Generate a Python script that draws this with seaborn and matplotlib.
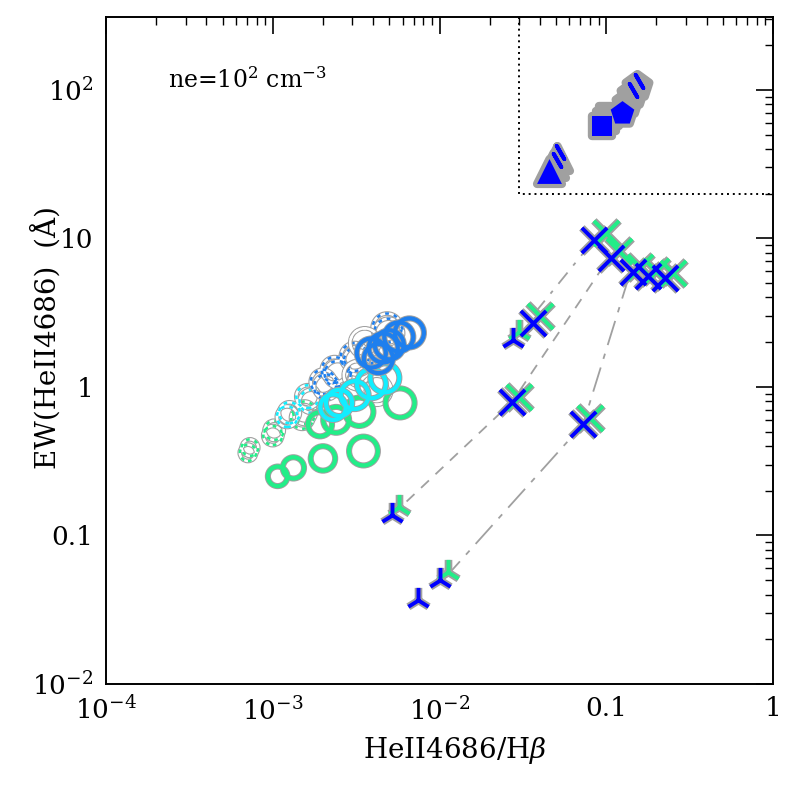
import numpy as np
import matplotlib
matplotlib.use("Agg")
import matplotlib.pyplot as plt
import seaborn as sns

# ---- data (x = HeII4686/Hb, y = EW(HeII4686) in A) ----
# rings: solid thick
green_ring_x = [1.07e-3, 1.33e-3, 2.0e-3, 3.5e-3, 1.92e-3, 2.4e-3, 3.3e-3, 5.8e-3]
green_ring_y = [0.25, 0.285, 0.33, 0.37, 0.56, 0.60, 0.68, 0.78]
cyan_ring_x = [2.3e-3, 2.5e-3, 3.1e-3, 4.7e-3, 3.9e-3]
cyan_ring_y = [0.73, 0.78, 0.88, 1.15, 1.05]
blue_ring_x = [3.9e-3, 4.3e-3, 4.6e-3, 5.0e-3, 5.7e-3, 6.6e-3]
blue_ring_y = [1.69, 1.55, 1.83, 1.92, 2.17, 2.31]
# rings: dashed / dotted
green_dash_x = [7.1e-4, 7.3e-4, 1.0e-3, 1.02e-3, 1.5e-3, 1.55e-3]
green_dash_y = [0.36, 0.39, 0.47, 0.51, 0.62, 0.67]
cyan_dash_x = [1.22e-3, 1.26e-3, 1.62e-3, 1.7e-3]
cyan_dash_y = [0.63, 0.67, 0.86, 0.80]
blue_dot_x = [2.0e-3, 2.1e-3, 2.35e-3, 2.45e-3, 3.1e-3, 3.25e-3, 4.85e-3, 4.95e-3]
blue_dot_y = [1.08, 1.0, 1.30, 1.22, 1.59, 1.50, 2.49, 2.30]
grey_dash_x = [3.24e-3, 4.2e-3, 3.56e-3]
grey_dash_y = [1.2, 0.95, 1.98]

# skeletal markers
blue_tri_x = [7.4e-3, 1.01e-2, 5.2e-3, 0.0276]
blue_tri_y = [0.037, 0.050, 0.137, 2.07]
green_tri_x = [1.12e-2, 5.7e-3, 0.030]
green_tri_y = [0.057, 0.155, 2.35]
blue_x_x = [0.0272, 0.0726, 0.0364, 0.0846, 0.107, 0.145, 0.178, 0.225]
blue_x_y = [0.79, 0.56, 2.7, 9.8, 7.4, 5.95, 5.6, 5.4]
green_x_x = [0.030, 0.080, 0.040, 0.100, 0.12, 0.16, 0.20, 0.25]
green_x_y = [0.86, 0.62, 3.0, 10.8, 8.2, 6.4, 6.0, 5.8]

# model tracks
track1_x = [5.2e-3, 0.0272, 0.105]
track1_y = [0.137, 0.79, 7.5]
track2_x = [1.05e-2, 0.0726, 0.14]
track2_y = [0.050, 0.56, 6.0]
track3_x = [0.0276, 0.0846]
track3_y = [2.07, 9.8]

# filled symbols in the dotted box
tri_fill_x = [0.0454]
tri_fill_y = [28.5]
tri_grey_x = [0.0454, 0.048, 0.051]
tri_grey_y = [28.5, 31.0, 34.5]
sq_fill_x = [0.094]
sq_fill_y = [57.0]
sq_grey_x = [0.094, 0.099, 0.104]
sq_grey_y = [57.0, 62.0, 67.0]
pent_fill_x = [0.124]
pent_fill_y = [70.0]
pent_grey_x = [0.124, 0.133, 0.143, 0.152]
pent_grey_y = [70.0, 81.0, 93.0, 106.0]
bar_x = [0.0528, 0.0507, 0.145, 0.158]
bar_y = [38.0, 33.8, 100.0, 115.0]

xticks = [1e-4, 1e-3, 1e-2, 0.1, 1]
xticklabels = [r"$10^{-4}$", r"$10^{-3}$", r"$10^{-2}$", "0.1", "1"]
yticks = [1e-2, 0.1, 1, 10, 100]
yticklabels = [r"$10^{-2}$", "0.1", "1", "10", r"$10^{2}$"]

sns.set_style("white")
plt.rcParams["font.family"] = ["DejaVu Serif"]
plt.rcParams["mathtext.fontset"] = "dejavuserif"
for k in ["text.color", "axes.labelcolor", "xtick.color", "ytick.color"]:
    plt.rcParams[k] = "black"

fig = plt.figure(figsize=(7.89, 7.89), dpi=100)
ax = fig.add_axes([106 / 789, 1 - 684 / 789, 667 / 789, 667 / 789])
ax.set_xscale("log")
ax.set_yscale("log")
ax.set_xlim(1e-4, 1)
ax.set_ylim(1e-2, 10 ** 2.49)

GREY = "#a0a0a0"
GREEN = "#22ee88"
CYAN = "#11eeff"
BLUE = "#1e7fee"
DBLUE = "#0000ff"


def ring_size(x):
    d = 19 + 18 * (np.log10(np.asarray(x)) + 3)
    d = np.clip(d, 15, 29) * 0.72
    return d ** 2


# tracks
ax.plot(track1_x, track1_y, color=GREY, lw=1.3, ls=(0, (6, 5)), zorder=1)
ax.plot(track2_x, track2_y, color=GREY, lw=1.3, ls=(0, (14, 5, 3, 5)), zorder=1)
ax.plot(track3_x, track3_y, color=GREY, lw=1.3, ls=(0, (8, 5, 2, 5)), zorder=1)

# dashed / dotted rings
for xs, ys, c in [(green_dash_x, green_dash_y, GREEN), (cyan_dash_x, cyan_dash_y, CYAN),
                  (blue_dot_x, blue_dot_y, BLUE), (grey_dash_x, grey_dash_y, "white")]:
    s = ring_size(xs)
    sns.scatterplot(x=xs, y=ys, marker="o", s=s, facecolor="none", edgecolor=GREY,
                    linewidth=3.4, ax=ax, zorder=2)
    sns.scatterplot(x=xs, y=ys, marker="o", s=s, facecolor="none", edgecolor="white",
                    linewidth=1.8, ax=ax, zorder=2)
    sns.scatterplot(x=xs, y=ys, marker="o", s=s, facecolor="none", edgecolor=c,
                    linewidth=1.8, linestyle=(0, (1.5, 2.0)), ax=ax, zorder=2)

# solid rings
for xs, ys, c in [(green_ring_x, green_ring_y, GREEN), (cyan_ring_x, cyan_ring_y, CYAN),
                  (blue_ring_x, blue_ring_y, BLUE)]:
    s = ring_size(xs)
    sns.scatterplot(x=xs, y=ys, marker="o", s=s, facecolor="none", edgecolor=GREY,
                    linewidth=4.4, ax=ax, zorder=3)
    sns.scatterplot(x=xs, y=ys, marker="o", s=s, facecolor="none", edgecolor=c,
                    linewidth=3.0, ax=ax, zorder=3)

# skeletal markers: grey halo, then green, then blue
for xs, ys, m in [(green_tri_x, green_tri_y, "2"), (blue_tri_x, blue_tri_y, "2"),
                  (green_x_x, green_x_y, "x"), (blue_x_x, blue_x_y, "x")]:
    sns.scatterplot(x=xs, y=ys, marker=m, s=330, color=GREY, linewidth=5.5, ax=ax, zorder=4)
for xs, ys, m in [(green_tri_x, green_tri_y, "2"), (green_x_x, green_x_y, "x")]:
    sns.scatterplot(x=xs, y=ys, marker=m, s=330, color=GREEN, linewidth=2.8, ax=ax, zorder=5)
for xs, ys, m in [(blue_tri_x, blue_tri_y, "2"), (blue_x_x, blue_x_y, "x")]:
    sns.scatterplot(x=xs, y=ys, marker=m, s=330, color=DBLUE, linewidth=2.8, ax=ax, zorder=6)

# filled symbols: grey trail, then blue
for xs, ys, m, sz in [(tri_grey_x, tri_grey_y, "^", 320), (sq_grey_x, sq_grey_y, "s", 220),
                      (pent_grey_x, pent_grey_y, "p", 320)]:
    sns.scatterplot(x=xs, y=ys, marker=m, s=sz, color=GREY, edgecolor=GREY,
                    linewidth=6, ax=ax, zorder=4)
for xs, ys, m, sz in [(tri_fill_x, tri_fill_y, "^", 320), (sq_fill_x, sq_fill_y, "s", 220),
                      (pent_fill_x, pent_fill_y, "p", 320)]:
    sns.scatterplot(x=xs, y=ys, marker=m, s=sz, color=DBLUE, edgecolor=DBLUE,
                    linewidth=0, ax=ax, zorder=6)
sns.scatterplot(x=bar_x, y=bar_y, marker=(2, 2, 30), s=120, color=GREY,
                linewidth=5, ax=ax, zorder=5)
sns.scatterplot(x=bar_x, y=bar_y, marker=(2, 2, 30), s=120, color=DBLUE,
                linewidth=2.8, ax=ax, zorder=6)

# dotted box
ax.plot([0.03, 0.03, 1], [10 ** 2.49, 20, 20], color="black", lw=1.4,
        ls=(0, (1, 2)), zorder=1)

ax.text(0.093, 0.906, r"ne=10$^2$ cm$^{-3}$", transform=ax.transAxes,
        fontsize=17, va="center", ha="left")

ax.set_xticks(xticks)
ax.set_xticklabels(xticklabels)
ax.set_yticks(yticks)
ax.set_yticklabels(yticklabels)
ax.tick_params(which="both", direction="in", top=True, right=True, labelsize=19)
ax.tick_params(which="major", length=12, width=1.2, pad=9)
ax.tick_params(which="minor", length=6, width=1.0)
for sp in ax.spines.values():
    sp.set_linewidth(1.4)
    sp.set_color("black")

ax.set_xlabel(r"HeII4686/H$\beta$", fontsize=20)
ax.set_ylabel("EW(HeII4686)  (Å)", fontsize=20)
ax.xaxis.set_label_coords(0.523, -0.076)
ax.yaxis.set_label_coords(-0.066, 0.52)

fig.savefig("out.png", dpi=100)
